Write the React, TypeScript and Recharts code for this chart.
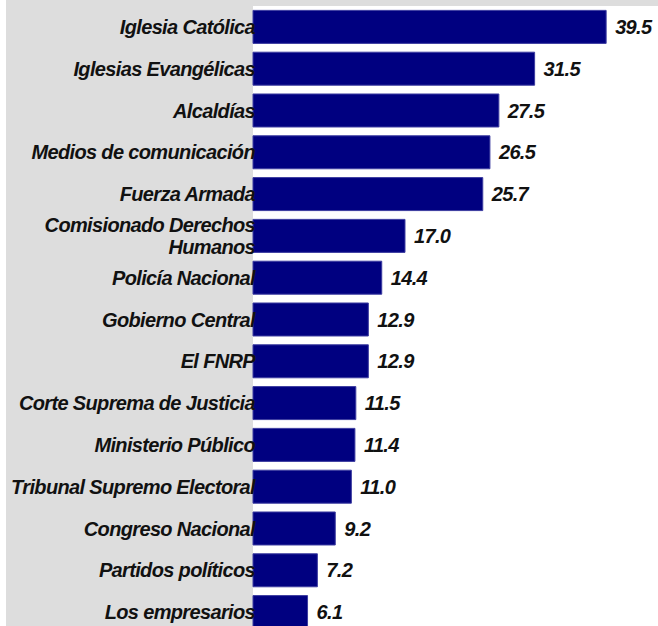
import { BarChart, Bar, XAxis, YAxis, CartesianGrid, LabelList } from 'recharts';

const institutions = [
  'Iglesia Católica',
  'Iglesias Evangélicas',
  'Alcaldías',
  'Medios de comunicación',
  'Fuerza Armada',
  'Comisionado Derechos\nHumanos',
  'Policía Nacional',
  'Gobierno Central',
  'El FNRP',
  'Corte Suprema de Justicia',
  'Ministerio Público',
  'Tribunal Supremo Electoral',
  'Congreso Nacional',
  'Partidos políticos',
  'Los empresarios',
];

const trust = [39.5, 31.5, 27.5, 26.5, 25.7, 17.0, 14.4, 12.9, 12.9, 11.5, 11.4, 11.0, 9.2, 7.2, 6.1];

const data = institutions.map((name, i) => ({ name, value: trust[i] }));

const FONT = '"Liberation Sans", Arial, sans-serif';

// etiqueta del eje: negrita cursiva, admite dos líneas
function NameTick(props: any) {
  const { x, y, payload } = props;
  const lines: string[] = String(payload.value).split('\n');
  const start = -((lines.length - 1) * 22) / 2;
  return (
    <text
      x={x + 2}
      y={y}
      textAnchor="end"
      fontFamily={FONT}
      fontSize={20}
      fontWeight="bold"
      fontStyle="italic"
      letterSpacing={-0.65}
      fill="#111"
    >
      {lines.map((l, i) => (
        <tspan key={i} x={x + 2} dy={i === 0 ? start : 22} dominantBaseline="central">
          {l}
        </tspan>
      ))}
    </text>
  );
}

export default function App() {
  return (
    <div style={{ position: 'absolute', left: 0, top: 0, width: 658, height: 626, overflow: 'hidden', background: '#fff' }}>
      {/* fondo gris del área de etiquetas */}
      <div style={{ position: 'absolute', left: 6, top: 0, width: 652, height: 626, background: '#dddddd' }} />
      <div style={{ position: 'absolute', left: 0, top: 0 }}>
        <BarChart
          width={658}
          height={633}
          data={data}
          layout="vertical"
          margin={{ top: 6, right: 0, left: 0, bottom: 0 }}
          barCategoryGap="10.5%"
        >
          <CartesianGrid horizontal={false} vertical={false} fill="#ffffff" />
          <XAxis type="number" domain={[0, 45.3]} hide />
          <YAxis
            type="category"
            dataKey="name"
            width={253}
            axisLine={false}
            tickLine={false}
            tickSize={0}
            tickMargin={0}
            interval={0}
            tick={<NameTick />}
          />
          <Bar dataKey="value" fill="#000080" stroke="#3c3ca0" strokeWidth={1} isAnimationActive={false}>
            <LabelList
              dataKey="value"
              position="right"
              offset={9}
              formatter={(v: any) => Number(v).toFixed(1)}
              fontFamily={FONT}
              fontSize={20}
              fontWeight="bold"
              fontStyle="italic"
              letterSpacing={-0.65}
              fill="#111"
            />
          </Bar>
        </BarChart>
      </div>
    </div>
  );
}
